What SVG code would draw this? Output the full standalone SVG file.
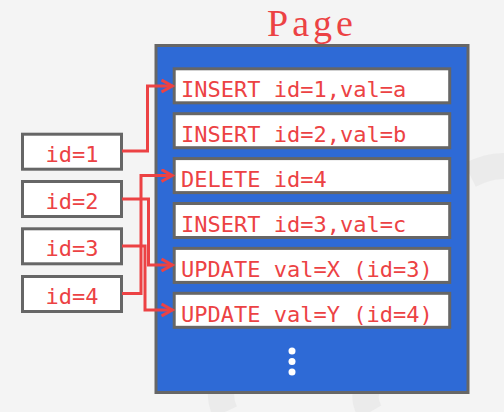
<svg xmlns="http://www.w3.org/2000/svg" width="504" height="412" viewBox="0 0 504 412">
<style>
.rec{fill:#ffffff;stroke:#666666;stroke-width:3}
.t{font-family:"DejaVu Sans Mono","Liberation Mono",monospace;font-size:22px;fill:#EC4244}
.c{fill:none;stroke:#EC4244;stroke-width:3;stroke-linejoin:miter}
</style>
<defs>
<marker id="ah" viewBox="0 0 14 14" refX="12" refY="7" markerWidth="14" markerHeight="14" markerUnits="userSpaceOnUse" orient="auto">
<path d="M1,1 L12,7 L1,13" fill="none" stroke="#EC4244" stroke-width="3"/>
</marker>
</defs>
<rect width="504" height="412" fill="#F4F4F4"/>
<g id="bg" fill="none" stroke="#EAEAEA" stroke-width="26" opacity="0.8">
<path d="M470,175 Q500,160 520,170"/>
<path d="M225,412 Q215,390 230,372"/>
<path d="M370,412 Q360,395 372,380"/>
</g>
<text id="title" x="312" y="35.5" text-anchor="middle" font-family="'Liberation Serif',serif" font-size="38" letter-spacing="4" fill="#EC4244">Page</text>
<g id="page">
<rect x="156" y="45.5" width="312" height="347" fill="#2E6AD6" stroke="#666666" stroke-width="3"/>
<circle cx="292" cy="351" r="3.5" fill="#ffffff"/>
<circle cx="292" cy="361.5" r="3.5" fill="#ffffff"/>
<circle cx="292" cy="372" r="3.5" fill="#ffffff"/>
</g>
<g id="r1"><rect class="rec" x="174.2" y="68.8" width="275.5" height="34"/><text class="t" x="181" y="97">INSERT id=1,val=a</text></g>
<g id="r2"><rect class="rec" x="174.2" y="113.7" width="275.5" height="34"/><text class="t" x="181" y="142">INSERT id=2,val=b</text></g>
<g id="r3"><rect class="rec" x="174.2" y="158.6" width="275.5" height="34"/><text class="t" x="181" y="187">DELETE id=4</text></g>
<g id="r4"><rect class="rec" x="174.2" y="203.5" width="275.5" height="34"/><text class="t" x="181" y="232">INSERT id=3,val=c</text></g>
<g id="r5"><rect class="rec" x="174.2" y="248.4" width="275.5" height="34"/><text class="t" x="181" y="277">UPDATE val=X (id=3)</text></g>
<g id="r6"><rect class="rec" x="174.2" y="293.3" width="275.5" height="34"/><text class="t" x="181" y="322">UPDATE val=Y (id=4)</text></g>
<g id="k1"><rect class="rec" x="22.5" y="134.2" width="99" height="35"/><text class="t" x="72" y="161.5" text-anchor="middle">id=1</text></g>
<g id="k2"><rect class="rec" x="22.5" y="181.5" width="99" height="35"/><text class="t" x="72" y="209" text-anchor="middle">id=2</text></g>
<g id="k3"><rect class="rec" x="22.5" y="228.8" width="99" height="35"/><text class="t" x="72" y="256" text-anchor="middle">id=3</text></g>
<g id="k4"><rect class="rec" x="22.5" y="276.5" width="99" height="35"/><text class="t" x="72" y="304" text-anchor="middle">id=4</text></g>
<g id="connectors">
<path class="c" d="M122,151 H147.5 V86 H172.5" marker-end="url(#ah)"/>
<path class="c" d="M122,293.5 H141 V175.5 H172.5" marker-end="url(#ah)"/>
<path class="c" d="M122,199 H148.5 V265 H172.5" marker-end="url(#ah)"/>
<path class="c" d="M122,246 H145 V310 H172.5" marker-end="url(#ah)"/>
</g>
</svg>
